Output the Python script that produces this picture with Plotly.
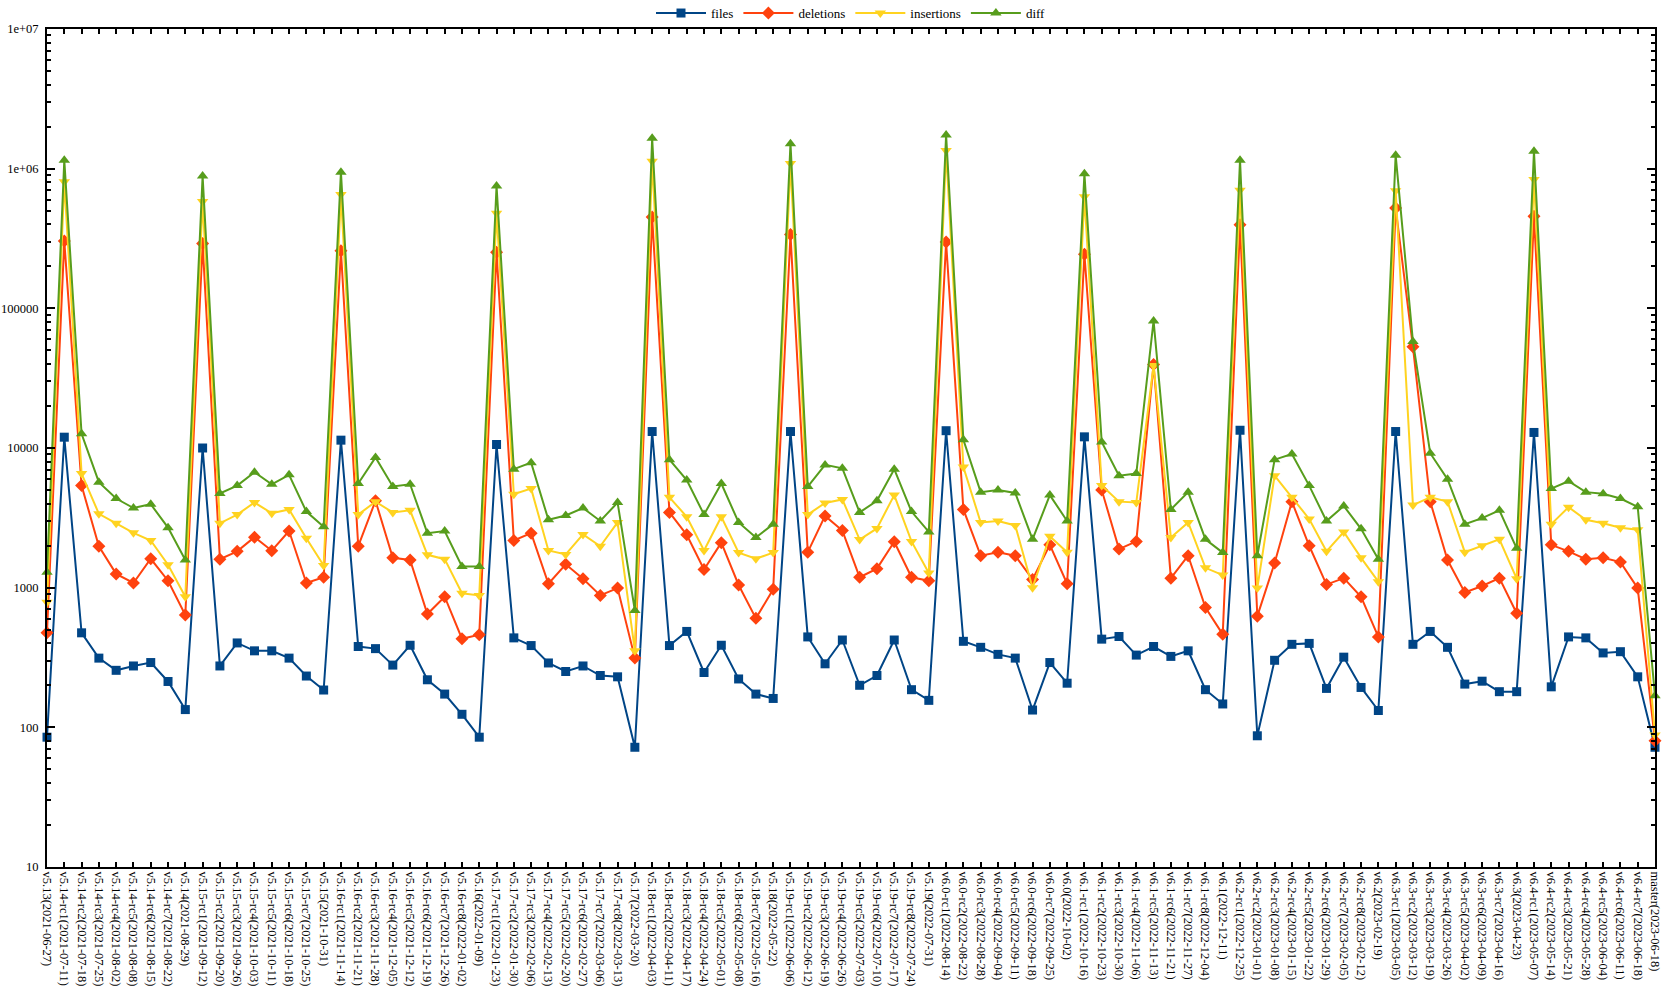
import plotly.graph_objects as go

categories = [
    "v5.13(2021-06-27)", "v5.14-rc1(2021-07-11)", "v5.14-rc2(2021-07-18)", "v5.14-rc3(2021-07-25)",
    "v5.14-rc4(2021-08-02)", "v5.14-rc5(2021-08-08)", "v5.14-rc6(2021-08-15)", "v5.14-rc7(2021-08-22)",
    "v5.14(2021-08-29)", "v5.15-rc1(2021-09-12)", "v5.15-rc2(2021-09-20)", "v5.15-rc3(2021-09-26)",
    "v5.15-rc4(2021-10-03)", "v5.15-rc5(2021-10-11)", "v5.15-rc6(2021-10-18)", "v5.15-rc7(2021-10-25)",
    "v5.15(2021-10-31)", "v5.16-rc1(2021-11-14)", "v5.16-rc2(2021-11-21)", "v5.16-rc3(2021-11-28)",
    "v5.16-rc4(2021-12-05)", "v5.16-rc5(2021-12-12)", "v5.16-rc6(2021-12-19)", "v5.16-rc7(2021-12-26)",
    "v5.16-rc8(2022-01-02)", "v5.16(2022-01-09)", "v5.17-rc1(2022-01-23)", "v5.17-rc2(2022-01-30)",
    "v5.17-rc3(2022-02-06)", "v5.17-rc4(2022-02-13)", "v5.17-rc5(2022-02-20)", "v5.17-rc6(2022-02-27)",
    "v5.17-rc7(2022-03-06)", "v5.17-rc8(2022-03-13)", "v5.17(2022-03-20)", "v5.18-rc1(2022-04-03)",
    "v5.18-rc2(2022-04-11)", "v5.18-rc3(2022-04-17)", "v5.18-rc4(2022-04-24)", "v5.18-rc5(2022-05-01)",
    "v5.18-rc6(2022-05-08)", "v5.18-rc7(2022-05-16)", "v5.18(2022-05-22)", "v5.19-rc1(2022-06-06)",
    "v5.19-rc2(2022-06-12)", "v5.19-rc3(2022-06-19)", "v5.19-rc4(2022-06-26)", "v5.19-rc5(2022-07-03)",
    "v5.19-rc6(2022-07-10)", "v5.19-rc7(2022-07-17)", "v5.19-rc8(2022-07-24)", "v5.19(2022-07-31)",
    "v6.0-rc1(2022-08-14)", "v6.0-rc2(2022-08-22)", "v6.0-rc3(2022-08-28)", "v6.0-rc4(2022-09-04)",
    "v6.0-rc5(2022-09-11)", "v6.0-rc6(2022-09-18)", "v6.0-rc7(2022-09-25)", "v6.0(2022-10-02)",
    "v6.1-rc1(2022-10-16)", "v6.1-rc2(2022-10-23)", "v6.1-rc3(2022-10-30)", "v6.1-rc4(2022-11-06)",
    "v6.1-rc5(2022-11-13)", "v6.1-rc6(2022-11-21)", "v6.1-rc7(2022-11-27)", "v6.1-rc8(2022-12-04)",
    "v6.1(2022-12-11)", "v6.2-rc1(2022-12-25)", "v6.2-rc2(2023-01-01)", "v6.2-rc3(2023-01-08)",
    "v6.2-rc4(2023-01-15)", "v6.2-rc5(2023-01-22)", "v6.2-rc6(2023-01-29)", "v6.2-rc7(2023-02-05)",
    "v6.2-rc8(2023-02-12)", "v6.2(2023-02-19)", "v6.3-rc1(2023-03-05)", "v6.3-rc2(2023-03-12)",
    "v6.3-rc3(2023-03-19)", "v6.3-rc4(2023-03-26)", "v6.3-rc5(2023-04-02)", "v6.3-rc6(2023-04-09)",
    "v6.3-rc7(2023-04-16)", "v6.3(2023-04-23)", "v6.4-rc1(2023-05-07)", "v6.4-rc2(2023-05-14)",
    "v6.4-rc3(2023-05-21)", "v6.4-rc4(2023-05-28)", "v6.4-rc5(2023-06-04)", "v6.4-rc6(2023-06-11)",
    "v6.4-rc7(2023-06-18)", "master(2023-06-18)",
]

files = [
    85, 11950, 475, 313, 256, 275, 291, 213, 134,
    10000, 275, 402, 353, 353, 313, 233, 185,
    11380, 379, 366, 279, 387, 219, 173, 124, 85,
    10590, 437, 385, 289, 251, 275, 235, 230, 72,
    13120, 385, 486, 247, 387, 222, 173, 161,
    13120, 444, 285, 422, 200, 235, 422, 186, 156,
    13300, 413, 374, 333, 313, 133, 291, 207,
    12020, 428, 447, 329, 379, 322, 353, 186, 147,
    13400, 87, 302, 393, 399, 190, 318, 193, 132,
    13120, 393, 486, 374, 204, 214, 180, 180,
    12920, 195, 444, 437, 341, 348, 230, 72,
]

deletions = [
    475, 304000, 5380, 1980, 1255, 1080, 1610, 1122, 638,
    291000, 1600, 1820, 2300, 1840, 2545, 1080, 1187,
    258000, 1980, 4190, 1636, 1578, 647, 861, 431, 460,
    252000, 2175, 2455, 1067, 1470, 1160, 880, 993, 313,
    450000, 3460, 2390, 1350, 2100, 1045, 603, 973,
    338000, 1795, 3265, 2565, 1187, 1368, 2130, 1187, 1122,
    298000, 3630, 1694, 1795, 1694, 1146, 2025, 1067,
    244000, 5010, 1888, 2145, 39600, 1170, 1694, 721, 463,
    396000, 625, 1500, 4130, 1995, 1052, 1170, 861, 444,
    522000, 53000, 4130, 1578, 925, 1028, 1170, 656,
    456000, 2025, 1820, 1600, 1636, 1524, 993, 80,
]

insertions = [
    785, 807000, 6560, 3380, 2890, 2470, 2175, 1460, 861,
    582000, 2890, 3335, 4070, 3410, 3630, 2255, 1440,
    652000, 3335, 4130, 3457, 3580, 1718, 1600, 912, 880,
    480000, 4670, 5120, 1845, 1730, 2405, 1980, 2930, 353,
    1130000, 4435, 3220, 1845, 3220, 1782, 1610, 1782,
    1090000, 3335, 4045, 4285, 2210, 2655, 4600, 2145, 1275,
    1350000, 7310, 2930, 3000, 2790, 1000, 2335, 1795,
    629000, 5380, 4130, 4070, 39000, 2285, 2930, 1387, 1230,
    700000, 993, 6340, 4435, 3105, 1820, 2505, 1636, 1104,
    695000, 3900, 4435, 4130, 1795, 1995, 2220, 1160,
    837000, 2850, 3770, 3060, 2890, 2690, 2600, 88,
]

diff = [
    1290, 1150000, 12650, 5690, 4345, 3715, 3960, 2690, 1578,
    886000, 4730, 5380, 6710, 5500, 6430, 3505, 2735,
    944000, 5570, 8550, 5300, 5500, 2455, 2545, 1418, 1418,
    752000, 7050, 7850, 3060, 3290, 3715, 3000, 4070, 685,
    1650000, 8250, 5900, 3335, 5570, 2930, 2285, 2850,
    1510000, 5300, 7570, 7150, 3460, 4190, 7050, 3505, 2505,
    1740000, 11460, 4830, 5010, 4765, 2220, 4600, 3000,
    918000, 11050, 6340, 6560, 81300, 3630, 4830, 2220, 1782,
    1150000, 1694, 8250, 9060, 5380, 3000, 3845, 2636, 1600,
    1250000, 57800, 9180, 5980, 2850, 3150, 3580, 1914,
    1330000, 5120, 5780, 4830, 4700, 4345, 3790, 168,
]

series = [
    ("files", files, "#004586", "square", 9),
    ("deletions", deletions, "#ff420e", "diamond", 10),
    ("insertions", insertions, "#ffd320", "triangle-down", 10),
    ("diff", diff, "#579d1c", "triangle-up", 10),
]

FONT = "Liberation Serif"

fig = go.Figure()
for name, vals, color, symbol, size in series:
    fig.add_trace(go.Scatter(
        x=categories, y=vals, name=name, mode="lines+markers",
        line=dict(color=color, width=2),
        marker=dict(symbol=symbol, size=size, color=color),
        cliponaxis=False,
    ))

major = [10, 100, 1000, 10000, 100000, 1000000, 10000000]
major_text = ["10", "100", "1000", "10000", "100000", "1e+06", "1e+07"]
minor_vals = [m * d for d in major[:-1] for m in range(2, 10)]

fig.update_layout(
    width=1667, height=995,
    margin=dict(l=47, r=12, t=29, b=128, autoexpand=False),
    paper_bgcolor="white", plot_bgcolor="white",
    font=dict(family=FONT, size=13, color="black"),
    showlegend=True,
    legend=dict(
        orientation="h", x=0.5, xanchor="center", y=1.019, yanchor="middle",
        font=dict(family=FONT, size=13), itemwidth=50,
        bgcolor="rgba(0,0,0,0)",
    ),
    xaxis=dict(
        type="category", range=[0, len(categories) - 1],
        tickangle=90, ticks="inside", ticklen=5, tickwidth=1.5, tickcolor="black",
        showline=True, linecolor="black", linewidth=2, mirror="ticks",
        showgrid=False, zeroline=False,
        tickfont=dict(family=FONT, size=12.5),
    ),
    yaxis=dict(
        type="log", range=[1, 7],
        tickmode="array", tickvals=major, ticktext=major_text,
        ticks="inside", ticklen=8, tickwidth=1.5, tickcolor="black",
        minor=dict(tickmode="array", tickvals=minor_vals, ticks="inside",
                   ticklen=4, tickcolor="black", showgrid=False),
        showline=True, linecolor="black", linewidth=2, mirror="ticks",
        showgrid=False, zeroline=False,
        tickfont=dict(family=FONT, size=12.5),
        ticklabelstandoff=4,
    ),
)

fig.write_html(
    "out.html",
    config={"displayModeBar": False},
    post_script="document.body.style.margin='0';document.body.style.overflow='hidden';",
)
